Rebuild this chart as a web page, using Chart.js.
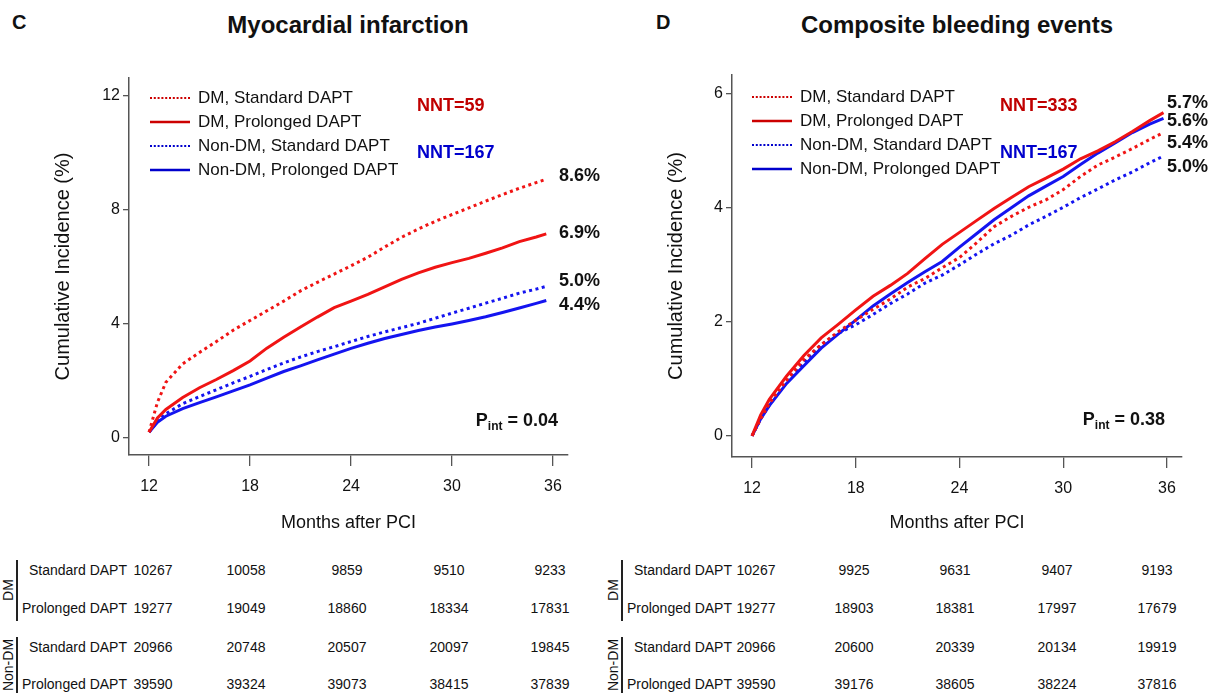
<!DOCTYPE html>
<html lang="en">
<head>
<meta charset="UTF-8" />
<title>Prolonged vs standard DAPT by diabetes status</title>
<script src="https://cdn.jsdelivr.net/npm/chart.js"></script>
<style>
  body {
    margin: 0;
    width: 1215px;
    height: 693px;
    background: #fff;
    font-family: "Liberation Sans", Arial, sans-serif;
    color: #111;
    position: relative;
    overflow: hidden;
  }
  canvas { position: absolute; top: 0; }
  .tag { position: absolute; font-weight: bold; font-size: 20px; line-height: 1; }
  .title {
    position: absolute;
    font-weight: bold;
    font-size: 24px;
    line-height: 1;
    white-space: nowrap;
    transform: translateX(-50%);
  }
  .cell {
    position: absolute;
    font-size: 14px;
    line-height: 16px;
    white-space: nowrap;
  }
  .grp {
    position: absolute;
    font-size: 14px;
    line-height: 16px;
    white-space: nowrap;
    transform: translate(-50%, -50%) rotate(-90deg);
  }
  .bar { position: absolute; width: 1.5px; background: #222; }
</style>
</head>
<body>
  <div class="tag" style="left:12px; top:12px">C</div>
  <div class="title" style="left:348px; top:13px">Myocardial infarction</div>
  <div class="tag" style="left:656px; top:12px">D</div>
  <div class="title" style="left:957px; top:13px">Composite bleeding events</div>

  <canvas id="chartC" width="607" height="545" style="left:0"></canvas>
  <canvas id="chartD" width="608" height="545" style="left:607px"></canvas>

  <div id="riskC"></div>
  <div id="riskD"></div>

<script>
// ---- data ----
const seriesNames = ["DM, Standard DAPT", "DM, Prolonged DAPT", "Non-DM, Standard DAPT", "Non-DM, Prolonged DAPT"];
const monthTicks = [12, 18, 24, 30, 36];

// panel C: myocardial infarction (cumulative incidence, %)
const monthsC = [12, 12.5, 13, 14, 15, 16, 17, 18, 19, 20, 21, 22, 23, 24, 25, 26, 27, 28, 29, 30, 31, 32, 33, 34, 35, 35.6];
const miDmStd = [0.2, 1.25, 1.95, 2.6, 3.0, 3.38, 3.78, 4.12, 4.46, 4.8, 5.16, 5.46, 5.75, 6.04, 6.34, 6.7, 7.04, 7.33, 7.6, 7.84, 8.07, 8.31, 8.54, 8.76, 8.96, 9.08];
const miDmPro = [0.2, 0.7, 1.0, 1.42, 1.76, 2.05, 2.36, 2.7, 3.15, 3.53, 3.89, 4.24, 4.57, 4.8, 5.04, 5.3, 5.56, 5.79, 5.99, 6.15, 6.3, 6.48, 6.67, 6.89, 7.05, 7.16];
const miNdStd = [0.2, 0.58, 0.85, 1.2, 1.45, 1.69, 1.93, 2.16, 2.4, 2.63, 2.84, 3.03, 3.2, 3.38, 3.56, 3.72, 3.87, 4.02, 4.2, 4.38, 4.55, 4.73, 4.9, 5.08, 5.22, 5.32];
const miNdPro = [0.2, 0.55, 0.76, 1.03, 1.24, 1.44, 1.65, 1.86, 2.1, 2.33, 2.53, 2.74, 2.94, 3.14, 3.32, 3.49, 3.63, 3.77, 3.89, 4.0, 4.12, 4.25, 4.4, 4.56, 4.72, 4.82];
const yTicksC = [0, 4, 8, 12];
const endLabelsC = ["8.6%", "6.9%", "5.0%", "4.4%"];
const nntC = ["NNT=59", "NNT=167"];
const pIntC = "0.04";

// panel D: composite bleeding events
const monthsD = [12, 12.5, 13, 14, 15, 16, 17, 18, 19, 20, 21, 22, 23, 24, 25, 26, 27, 28, 29, 30, 31, 32, 33, 34, 35, 35.8];
const blDmStd = [0, 0.3, 0.57, 0.98, 1.34, 1.6, 1.83, 2.03, 2.22, 2.4, 2.61, 2.76, 2.95, 3.13, 3.39, 3.67, 3.85, 4.01, 4.14, 4.32, 4.55, 4.75, 4.89, 5.04, 5.2, 5.32];
const blDmPro = [0, 0.37, 0.64, 1.05, 1.41, 1.72, 1.96, 2.21, 2.45, 2.64, 2.85, 3.11, 3.36, 3.57, 3.78, 3.99, 4.18, 4.37, 4.52, 4.68, 4.86, 5.0, 5.16, 5.34, 5.53, 5.67];
const blNdStd = [0, 0.3, 0.54, 0.94, 1.29, 1.6, 1.8, 1.95, 2.13, 2.32, 2.49, 2.68, 2.82, 3.0, 3.19, 3.37, 3.52, 3.7, 3.85, 4.01, 4.18, 4.33, 4.49, 4.63, 4.79, 4.91];
const blNdPro = [0, 0.3, 0.53, 0.92, 1.23, 1.54, 1.79, 2.03, 2.28, 2.49, 2.69, 2.88, 3.06, 3.31, 3.55, 3.79, 4.0, 4.21, 4.38, 4.55, 4.76, 4.96, 5.14, 5.32, 5.47, 5.57];
const yTicksD = [0, 2, 4, 6];
const endLabelsD = ["5.7%", "5.6%", "5.4%", "5.0%"];
const nntD = ["NNT=333", "NNT=167"];
const pIntD = "0.38";

// numbers at risk (months 12, 18, 24, 30, 36)
const riskGroups = ["DM", "Non-DM"];
const riskArms = ["Standard DAPT", "Prolonged DAPT"];
const riskC_DmStd = [10267, 10058, 9859, 9510, 9233];
const riskC_DmPro = [19277, 19049, 18860, 18334, 17831];
const riskC_NdStd = [20966, 20748, 20507, 20097, 19845];
const riskC_NdPro = [39590, 39324, 39073, 38415, 37839];
const riskD_DmStd = [10267, 9925, 9631, 9407, 9193];
const riskD_DmPro = [19277, 18903, 18381, 17997, 17679];
const riskD_NdStd = [20966, 20600, 20339, 20134, 19919];
const riskD_NdPro = [39590, 39176, 38605, 38224, 37816];

// ---- drawing ----
const FONT = "'Liberation Sans', Arial, sans-serif";
const RED = "#f01414";
const BLUE = "#1414f0";
const DOT = [3, 3.5];

function series(months, vals) {
  return months.map((m, i) => ({ x: m, y: vals[i] }));
}

function datasets(months, a, b, c, d) {
  const st = [
    { color: RED, legend: "#cc0000", dash: DOT },
    { color: RED, legend: "#cc0000", dash: [] },
    { color: BLUE, legend: "#0000cc", dash: DOT },
    { color: BLUE, legend: "#0000cc", dash: [] },
  ];
  return [a, b, c, d].map((v, i) => ({
    label: seriesNames[i],
    data: series(months, v),
    borderColor: st[i].color,
    legendColor: st[i].legend,
    borderDash: st[i].dash,
    borderWidth: 3,
    pointRadius: 0,
    tension: 0,
    fill: false,
  }));
}

// legend, NNT notes, end labels and P-interaction text
const notesPlugin = {
  id: "notes",
  afterDatasetsDraw(chart, args, o) {
    const ctx = chart.ctx;
    ctx.save();
    ctx.textBaseline = "middle";
    chart.data.datasets.forEach((ds, i) => {
      const y = o.legendY + i * 24;
      ctx.beginPath();
      ctx.strokeStyle = ds.legendColor;
      ctx.lineWidth = ds.borderDash.length ? 2.2 : 2.5;
      ctx.setLineDash(ds.borderDash.length ? [2, 1.8] : []);
      ctx.moveTo(o.legendX, y);
      ctx.lineTo(o.legendX + 40, y);
      ctx.stroke();
      ctx.setLineDash([]);
      ctx.fillStyle = "#111";
      ctx.font = "17px " + FONT;
      ctx.textAlign = "left";
      ctx.fillText(ds.label, o.legendX + 48, y);
    });

    ctx.font = "bold 18px " + FONT;
    ctx.fillStyle = "#c00000";
    ctx.fillText(o.nnt[0], o.nntX, o.nntY[0]);
    ctx.fillStyle = "#0000cc";
    ctx.fillText(o.nnt[1], o.nntX, o.nntY[1]);

    ctx.fillStyle = "#111";
    o.ends.forEach((t, i) => ctx.fillText(t, o.endX, o.endY[i]));

    // P_int = value, right aligned
    const big = "bold 18px " + FONT, small = "bold 12px " + FONT;
    ctx.font = big;
    const tail = " = " + o.p;
    const wTail = ctx.measureText(tail).width;
    const wP = ctx.measureText("P").width;
    ctx.font = small;
    const wInt = ctx.measureText("int").width;
    let x = o.pRight - wTail - wInt - wP;
    ctx.font = big;
    ctx.fillText("P", x, o.pY);
    ctx.font = small;
    ctx.fillText("int", x + wP, o.pY + 6);
    ctx.font = big;
    ctx.fillText(tail, x + wP + wInt, o.pY);
    ctx.restore();
  },
};

function makeChart(id, ds, c) {
  const tickFont = { family: FONT, size: 16 };
  return new Chart(document.getElementById(id), {
    type: "line",
    data: { datasets: ds },
    plugins: [notesPlugin],
    options: {
      responsive: false,
      animation: false,
      devicePixelRatio: 1,
      layout: { padding: { left: 0, top: c.top, right: c.right, bottom: 0 } },
      plugins: {
        legend: { display: false },
        tooltip: { enabled: false },
        notes: c.notes,
      },
      scales: {
        x: {
          type: "linear",
          min: c.xMin,
          max: c.xMax,
          afterFit: (s) => { s.height = c.xH; },
          afterBuildTicks: (s) => { s.ticks = monthTicks.map((v) => ({ value: v })); },
          grid: { drawOnChartArea: false, drawTicks: true, tickLength: 11, color: "#555", lineWidth: 1.3 },
          border: { display: true, color: "#555", width: 1.5 },
          ticks: { font: tickFont, color: "#111", padding: 11, maxRotation: 0 },
          title: { display: true, text: "Months after PCI", font: { family: FONT, size: 18 }, color: "#111", padding: { bottom: 11 } },
        },
        y: {
          type: "linear",
          min: c.yMin,
          max: c.yMax,
          afterFit: (s) => { s.width = c.yW; },
          afterBuildTicks: (s) => { s.ticks = c.yTicks.map((v) => ({ value: v })); },
          grid: { drawOnChartArea: false, drawTicks: true, tickLength: 6, color: "#555", lineWidth: 1.3 },
          border: { display: true, color: "#555", width: 1.5 },
          ticks: { font: tickFont, color: "#111", padding: 3 },
          title: { display: true, text: "Cumulative Incidence (%)", font: { family: FONT, size: 20 }, color: "#111", padding: { top: c.yTitlePad } },
        },
      },
    },
  });
}

makeChart("chartC", datasets(monthsC, miDmStd, miDmPro, miNdStd, miNdPro), {
  top: 78, right: 39, xH: 90, yW: 129,
  xMin: 10.81, xMax: 36.89, yMin: -0.6, yMax: 12.63,
  yTicks: yTicksC, yTitlePad: 51,
  notes: {
    legendX: 150, legendY: 98,
    nnt: nntC, nntX: 417, nntY: [106, 153],
    ends: endLabelsC, endX: 559, endY: [176, 233, 281, 305],
    p: pIntC, pRight: 558, pY: 421,
  },
});

makeChart("chartD", datasets(monthsD, blDmStd, blDmPro, blNdStd, blNdPro), {
  top: 75, right: 33, xH: 88, yW: 125,
  xMin: 10.84, xMax: 36.87, yMin: -0.37, yMax: 6.33,
  yTicks: yTicksD, yTitlePad: 57,
  notes: {
    legendX: 145, legendY: 97,
    nnt: nntD, nntX: 393, nntY: [106, 153],
    ends: endLabelsD, endX: 560, endY: [103, 121, 143, 167],
    p: pIntD, pRight: 558, pY: 420,
  },
});

// numbers-at-risk tables
function riskTable(el, x0, cols, rows) {
  const box = document.getElementById(el);
  const rowY = [570, 608, 647, 684];
  let html = "";
  rows.forEach((vals, r) => {
    const y = rowY[r] - 8;
    html += `<div class="cell" style="left:${x0 + 127}px; top:${y}px; transform:translateX(-100%)">${riskArms[r % 2]}</div>`;
    vals.forEach((v, i) => {
      html += `<div class="cell" style="left:${x0 + cols[i]}px; top:${y}px; transform:translateX(-50%)">${v}</div>`;
    });
  });
  html += `<div class="bar" style="left:${x0 + 16}px; top:560px; height:61px"></div>`;
  html += `<div class="bar" style="left:${x0 + 16}px; top:637px; height:56px"></div>`;
  html += `<div class="grp" style="left:${x0 + 8}px; top:590px">${riskGroups[0]}</div>`;
  html += `<div class="grp" style="left:${x0 + 8}px; top:665px">${riskGroups[1]}</div>`;
  box.innerHTML = html;
}

riskTable("riskC", 0, [153, 246, 347, 449, 550], [riskC_DmStd, riskC_DmPro, riskC_NdStd, riskC_NdPro]);
riskTable("riskD", 605, [151, 249, 350, 452, 552], [riskD_DmStd, riskD_DmPro, riskD_NdStd, riskD_NdPro]);
</script>
</body>
</html>
